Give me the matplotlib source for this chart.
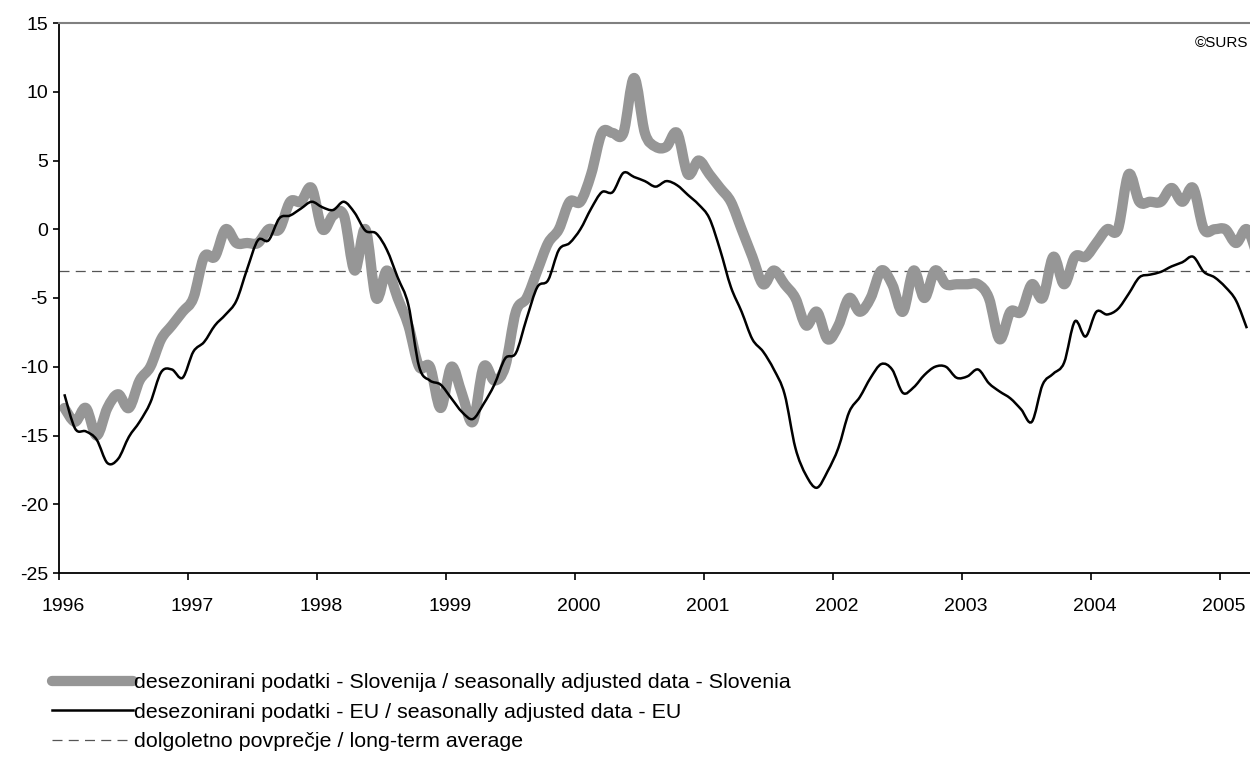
import matplotlib
matplotlib.use("Agg")
import matplotlib.pyplot as plt
import matplotlib.transforms as mtransforms
from matplotlib.path import Path
from matplotlib.patches import PathPatch
from matplotlib.lines import Line2D
import numpy as np

plt.rcParams['font.family'] = ['Liberation Sans', 'DejaVu Sans']
plt.rcParams['axes.unicode_minus'] = False

# monthly data, Jan 1996 onwards
slovenia = [-13, -14, -13, -15, -13, -12, -13, -11, -10, -8, -7, -6,
            -5, -2, -2, 0, -1, -1, -1, 0, 0, 2, 2, 3,
            0, 1, 1, -3, 0, -5, -3, -5, -7, -10, -10, -13,
            -10, -12, -14, -10, -11, -10, -6, -5, -3, -1, 0, 2,
            2, 4, 7, 7, 7, 11, 7, 6, 6, 7, 4, 5,
            4, 3, 2, 0, -2, -4, -3, -4, -5, -7, -6, -8,
            -7, -5, -6, -5, -3, -4, -6, -3, -5, -3, -4, -4,
            -4, -4, -5, -8, -6, -6, -4, -5, -2, -4, -2, -2,
            -1, 0, 0, 4, 2, 2, 2, 3, 2, 3, 0, 0,
            0, -1, 0, -2]
eu = [-12.0, -14.5, -14.7, -15.3, -17.0, -16.7, -15.1, -14.0, -12.6, -10.4, -10.2, -10.8,
      -8.9, -8.2, -7.0, -6.2, -5.2, -2.9, -0.8, -0.8, 0.8, 1.0, 1.5, 2.0,
      1.6, 1.4, 2.0, 1.2, -0.1, -0.3, -1.5, -3.5, -5.5, -10.0, -11.0, -11.3,
      -12.3, -13.3, -13.8, -12.7, -11.3, -9.4, -9.0, -6.5, -4.2, -3.7, -1.5, -1.0,
      0.0, 1.5, 2.7, 2.7, 4.1, 3.8, 3.5, 3.1, 3.5, 3.2, 2.5, 1.8,
      0.8, -1.5, -4.2, -6.0, -8.0, -8.9, -10.2, -12.0, -15.9, -17.9, -18.8, -17.6,
      -15.9, -13.3, -12.2, -10.8, -9.8, -10.2, -11.9, -11.5, -10.6, -10.0, -10.0, -10.8,
      -10.7, -10.2, -11.2, -11.8, -12.3, -13.1, -14.0, -11.3, -10.5, -9.7, -6.7, -7.8,
      -6.0, -6.2, -5.8, -4.7, -3.5, -3.3, -3.1, -2.7, -2.4, -2.0, -3.1, -3.5,
      -4.2, -5.2, -7.2]
long_term_avg = -3
years = list(range(1996, 2006))
labels = ['desezonirani podatki - Slovenija / seasonally adjusted data - Slovenia',
          'desezonirani podatki - EU / seasonally adjusted data - EU',
          'dolgoletno povprečje / long-term average']


def smooth_path(x, y):
    # Excel-like smoothed line: cubic Bezier through every point
    p = np.column_stack([x, y]).astype(float)
    n = len(p)
    verts = [p[0]]
    codes = [Path.MOVETO]
    for i in range(n - 1):
        p0 = p[i - 1] if i > 0 else p[i]
        p3 = p[i + 2] if i + 2 < n else p[i + 1]
        c1 = p[i] + (p[i + 1] - p0) / 6
        c2 = p[i + 1] - (p3 - p[i]) / 6
        verts += [c1, c2, p[i + 1]]
        codes += [Path.CURVE4] * 3
    return Path(verts, codes)


x_si = 1996 + (np.arange(len(slovenia)) + 0.5) / 12
x_eu = 1996 + (np.arange(len(eu)) + 0.5) / 12

fig = plt.figure(figsize=(12.5, 7.58), dpi=100)
ax = fig.add_axes([59 / 1250, 1 - 573 / 758, 1 - 59 / 1250, 550 / 758])

ax.add_patch(PathPatch(smooth_path(x_si, slovenia), fill=False, edgecolor='#969696',
                       lw=7.4, capstyle='round', joinstyle='round', zorder=2))
ax.add_patch(PathPatch(smooth_path(x_eu, eu), fill=False, edgecolor='black',
                       lw=1.8, zorder=3))
ax.axhline(long_term_avg, color='#555555', lw=0.9, dashes=(8, 5), zorder=1)

ax.set_xlim(1996, 1996 + (1250 - 59) / 129.0)
ax.set_ylim(-25, 15)
ax.set_yticks(range(-25, 16, 5))
ax.set_xticks(years)
ax.set_xticklabels([str(y) for y in years])

ax.spines['right'].set_visible(False)
ax.spines['top'].set_color('#808080')
ax.spines['top'].set_linewidth(1.5)
ax.spines['left'].set_linewidth(1.3)
ax.spines['bottom'].set_linewidth(1.3)
ax.tick_params(axis='y', direction='out', length=4, width=1.2, pad=4, labelsize=14)
ax.tick_params(axis='x', direction='out', length=5, width=1.2, pad=13, labelsize=14)
shift = mtransforms.ScaledTranslation(4 / 100, 0, fig.dpi_scale_trans)
for lab in ax.get_xticklabels():
    lab.set_transform(lab.get_transform() + shift)

fig.text(1195 / 1250, 1 - 43 / 758, '©SURS', fontsize=11, ha='left', va='center')

h1 = Line2D([], [], color='#969696', lw=7.4, solid_capstyle='round')
h2 = Line2D([], [], color='black', lw=1.8)
h3 = Line2D([], [], color='#555555', lw=0.9, dashes=(8, 5))
fig.legend([h1, h2, h3], labels, loc='upper left', bbox_to_anchor=(52 / 1250, 1 - 673 / 758),
           frameon=False, fontsize=15.4, handlelength=3.8, handletextpad=0.05,
           labelspacing=0.5, borderaxespad=0, borderpad=0)

fig.savefig('out.png', dpi=100)
